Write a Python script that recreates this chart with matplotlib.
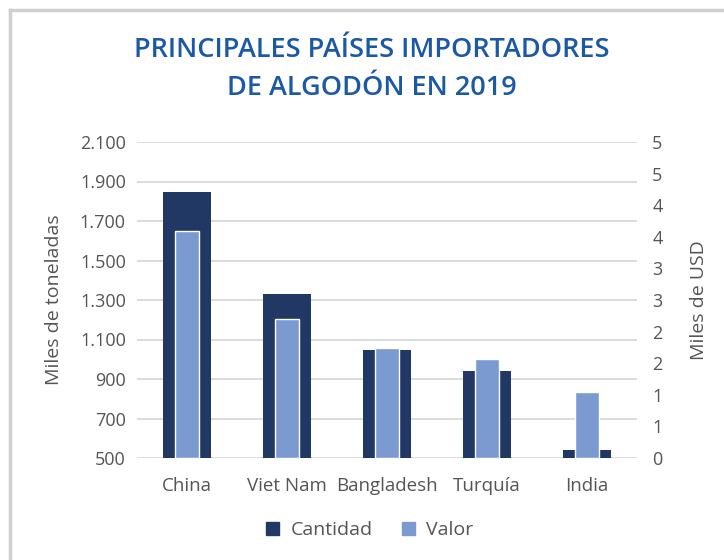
import matplotlib
matplotlib.use("Agg")
import matplotlib.pyplot as plt
from matplotlib.lines import Line2D
from matplotlib.patches import Patch
import numpy as np

categories = ["China", "Viet Nam", "Bangladesh", "Turquía", "India"]
cantidad = [1845, 1330, 1047, 940, 542]
valor = [3.59, 2.20, 1.74, 1.57, 1.04]

left_ticks = [500, 700, 900, 1100, 1300, 1500, 1700, 1900, 2100]
left_labels = ["500", "700", "900", "1.100", "1.300", "1.500", "1.700", "1.900", "2.100"]
right_ticks = [0, 0.5, 1, 1.5, 2, 2.5, 3, 3.5, 4, 4.5, 5]
right_labels = ["0", "1", "1", "2", "2", "3", "3", "4", "4", "5", "5"]

W, H = 724, 560
fig = plt.figure(figsize=(W / 100, H / 100), dpi=100)
plt.rcParams['font.family'] = ['Open Sans', 'DejaVu Sans']

dark = "#213864"
light = "#7B9BD0"
grid = "#D9D9D9"
txt = "#555555"

ax = fig.add_axes([137 / W, 1 - 458 / H, 500 / W, 316 / H])
x = np.arange(len(categories))
ax.bar(x, cantidad, width=0.48, color=dark, zorder=2, bottom=0)
ax.set_ylim(500, 2100)
ax.set_xlim(-0.5, len(categories) - 0.5)
ax.set_yticks(left_ticks)
ax.set_yticklabels(left_labels)
ax.yaxis.grid(True, color=grid, linewidth=1.3, zorder=0)
ax.set_axisbelow(True)
for s in ax.spines.values():
    s.set_visible(False)
ax.tick_params(axis='y', length=0, pad=8, labelsize=13, labelcolor=txt)
ax.set_xticks(x)
ax.set_xticklabels(categories)
ax.tick_params(axis='x', length=0, pad=14, labelsize=13.5, labelcolor=txt)
ax.set_ylabel("Miles de toneladas", fontsize=14, color=txt, labelpad=12)

ax2 = ax.twinx()
ax2.bar(x, valor, width=0.24, color=light, edgecolor="white", linewidth=1.0, zorder=3)
ax2.set_ylim(0, 5)
ax2.set_yticks(right_ticks)
ax2.set_yticklabels(right_labels)
for s in ax2.spines.values():
    s.set_visible(False)
ax2.tick_params(axis='y', length=0, pad=11, labelsize=13, labelcolor=txt)
ax2.set_ylabel("Miles de USD", fontsize=14, color=txt, labelpad=20)

fig.text(372 / W, 1 - 50 / H, "PRINCIPALES PAÍSES IMPORTADORES", ha='center', va='center',
         fontsize=19.5, fontweight='semibold', color="#1B58A6")
fig.text(372 / W, 1 - 88 / H, "DE ALGODÓN EN 2019", ha='center', va='center',
         fontsize=19.5, fontweight='semibold', color="#1B58A6")

handles = [Patch(color=dark, label="Cantidad"), Patch(color=light, label="Valor")]
fig.legend(handles=handles, loc='center', bbox_to_anchor=(370 / W, 1 - 530 / H), ncol=2,
           frameon=False, fontsize=14, labelcolor=txt, handlelength=0.65, handleheight=0.65,
           columnspacing=1.5, handletextpad=0.6)

fig.add_artist(Line2D([9.5 / W, 9.5 / W], [0, 1 - 9.5 / H], transform=fig.transFigure,
                      color="#CFCFCF", linewidth=2.5))
fig.add_artist(Line2D([9.5 / W, 1], [1 - 9.5 / H, 1 - 9.5 / H], transform=fig.transFigure,
                      color="#CFCFCF", linewidth=2.5))

fig.savefig("out.png", dpi=100)
